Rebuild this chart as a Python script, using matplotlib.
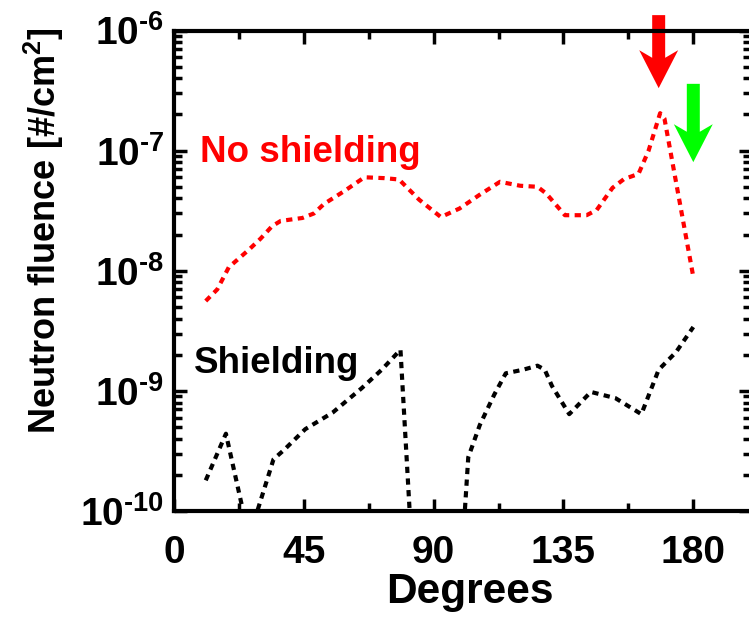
import matplotlib
matplotlib.use('Agg')
import matplotlib.pyplot as plt
import matplotlib.transforms as mtransforms
from matplotlib.patches import FancyArrow
from matplotlib.ticker import LogLocator, NullFormatter, MultipleLocator

# Neutron fluence vs angle
deg_noshield = [11, 15, 19, 26, 30, 34, 37, 44.5, 48.5, 52, 59, 66, 73, 78, 85,
                92.5, 99, 106, 113, 120, 126, 129, 135.5, 143, 146.5, 152, 156,
                161, 164.5, 168.5, 170, 180]
flu_noshield = [5.6e-9, 7e-9, 1.07e-8, 1.5e-8, 1.85e-8, 2.35e-8, 2.6e-8, 2.75e-8,
                3.0e-8, 3.6e-8, 4.6e-8, 6.0e-8, 5.9e-8, 5.75e-8, 3.9e-8, 2.8e-8,
                3.3e-8, 4.3e-8, 5.5e-8, 5.1e-8, 5.0e-8, 4.4e-8, 2.9e-8, 2.9e-8,
                3.2e-8, 4.9e-8, 5.8e-8, 6.4e-8, 1.0e-7, 2.05e-7, 1.85e-7, 8.9e-9]

deg_shield = [11, 18, 26, 34.5, 38, 45.5, 55, 65, 72, 78.5, 82.5, 100, 102, 106,
              111, 115, 121, 126, 128.5, 131, 137, 144.5, 153, 162, 168, 174, 180]
flu_shield = [1.8e-10, 4.4e-10, 6e-11, 2.7e-10, 3.2e-10, 4.8e-10, 6.6e-10, 1.05e-9,
              1.5e-9, 2.2e-9, 4.5e-11, 5e-11, 2.8e-10, 5.2e-10, 9.3e-10, 1.4e-9,
              1.5e-9, 1.62e-9, 1.5e-9, 1.1e-9, 6.4e-10, 9.8e-10, 8.7e-10, 6.4e-10,
              1.5e-9, 2.1e-9, 3.4e-9]

xticks = [0, 45, 90, 135, 180]
xtick_labels = ['0', '45', '90', '135', '180']
yticks = [1e-10, 1e-9, 1e-8, 1e-7, 1e-6]
ytick_labels = [r'$\mathbf{10^{\text{-}10}}$', r'$\mathbf{10^{\text{-}9}}$',
                r'$\mathbf{10^{\text{-}8}}$', r'$\mathbf{10^{\text{-}7}}$',
                r'$\mathbf{10^{\text{-}6}}$']

plt.rcParams['font.family'] = ['Liberation Sans', 'DejaVu Sans']
plt.rcParams['font.weight'] = 'bold'
plt.rcParams['mathtext.fontset'] = 'custom'
plt.rcParams['mathtext.rm'] = 'Liberation Sans:bold'
plt.rcParams['mathtext.bf'] = 'Liberation Sans:bold'
plt.rcParams['mathtext.default'] = 'bf'

fig = plt.figure(figsize=(7.49, 6.18), dpi=100)
ax = fig.add_axes([174 / 749, 1 - 511 / 618, 577 / 749, 480.5 / 618])

dots = (0, (1.5, 1.3))
ax.plot(deg_noshield, flu_noshield, color='#ff0000', lw=3, linestyle=dots)
ax.plot(deg_shield, flu_shield, color='black', lw=3, linestyle=dots)

ax.set_yscale('log')
ax.set_xlim(0, 200)
ax.set_ylim(1e-10, 1e-6)

ax.set_xticks(xticks)
ax.set_xticklabels(xtick_labels)
ax.xaxis.set_minor_locator(MultipleLocator(22.5))
ax.set_yticks(yticks)
ax.set_yticklabels(ytick_labels)
ax.yaxis.set_minor_locator(LogLocator(base=10, subs=range(2, 10), numticks=20))
ax.yaxis.set_minor_formatter(NullFormatter())

ax.tick_params(which='both', direction='in', top=True, right=True, width=2.5)
ax.tick_params(which='major', length=9)
ax.tick_params(which='minor', length=5.5)
ax.tick_params(axis='x', which='major', labelsize=28, pad=17)
ax.tick_params(axis='y', which='major', labelsize=28, pad=7)
for s in ax.spines.values():
    s.set_linewidth(3)

ax.set_xlabel('Degrees', fontsize=30.5, fontweight='bold')
ax.xaxis.set_label_coords(0.512, -0.127)
ylab = ax.set_ylabel(r'Neutron fluence [#/cm$^\mathbf{2}$]', fontsize=26,
                     fontweight='bold')
ylab.set_va('center')
ax.yaxis.set_label_coords(-0.225, 0.583)

ax.text(0.045, 0.727, 'No shielding', color='#ff0000', fontsize=26.5,
        fontweight='bold', transform=ax.transAxes, va='baseline', ha='left')
ax.text(0.035, 0.287, 'Shielding', color='black', fontsize=26.5,
        fontweight='bold', transform=ax.transAxes, va='baseline', ha='left')

# arrows: x in data units, y in axes fraction
trans = mtransforms.blended_transform_factory(ax.transData, ax.transAxes)
for xpos, ytop, ytip, col in [(168, 1.032, 0.880, '#ff0000'),
                              (180, 0.889, 0.726, '#00ff00')]:
    ar = FancyArrow(xpos, ytop, 0, ytip - ytop, width=4.5, head_width=13.5,
                    head_length=0.079, length_includes_head=True, overhang=0.2,
                    color=col, transform=trans, clip_on=False, lw=0)
    ax.add_patch(ar)

fig.savefig('out.png', dpi=100)
